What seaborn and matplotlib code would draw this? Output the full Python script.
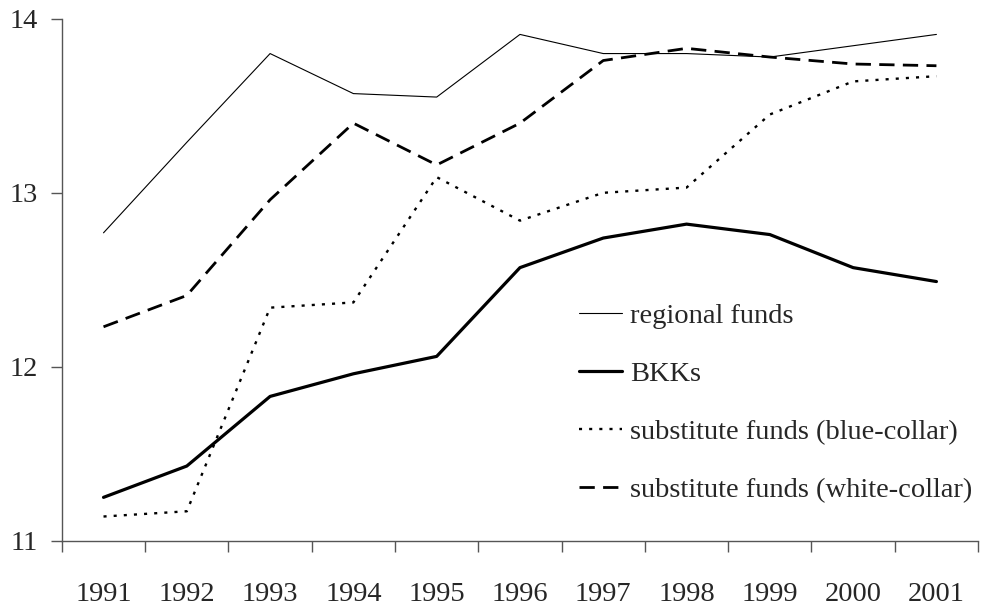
import matplotlib
matplotlib.use("Agg")
import matplotlib.pyplot as plt
import seaborn as sns
import pandas as pd

years = [1991, 1992, 1993, 1994, 1995, 1996, 1997, 1998, 1999, 2000, 2001]
regional = [12.77, 13.29, 13.80, 13.57, 13.55, 13.91, 13.80, 13.80, 13.78, 13.845, 13.91]
bkks = [11.25, 11.43, 11.83, 11.96, 12.06, 12.57, 12.74, 12.82, 12.76, 12.57, 12.49]
blue_collar = [11.14, 11.17, 12.34, 12.37, 13.09, 12.84, 13.00, 13.03, 13.45, 13.64, 13.67]
white_collar = [12.23, 12.41, 12.96, 13.40, 13.16, 13.40, 13.76, 13.83, 13.78, 13.74, 13.73]
labels = ["regional funds", "BKKs", "substitute funds (blue-collar)",
          "substitute funds (white-collar)"]

sns.set_theme(style="white")
plt.rcParams['font.family'] = ['Liberation Serif', 'DejaVu Serif']

FS = 20.5
fig = plt.figure(figsize=(9.82, 6.05), dpi=100)
ax = fig.add_axes([0.063, 0.106, 0.933, 0.863])

series = [regional, bkks, blue_collar, white_collar]
styles = [
    dict(lw=0.8, ls='-'),
    dict(lw=2.3, ls='-'),
    dict(lw=1.7, ls=(0, (1.3, 3.0))),
    dict(lw=2.0, ls=(0, (5.5, 3.0))),
]
for vals, lab, st in zip(series, labels, styles):
    df = pd.DataFrame({"year": years, "value": vals})
    sns.lineplot(data=df, x="year", y="value", ax=ax, color="black",
                 linewidth=st['lw'], linestyle=st['ls'], label=lab)

ax.set_xlim(years[0] - 0.5, years[-1] + 0.5)
ax.set_ylim(11, 14)
ax.set_yticks([11, 12, 13, 14])
ax.set_xticks([y - 0.5 for y in years] + [years[-1] + 0.5])
ax.set_xticklabels([])
ax.set_xticks(years, minor=True)
ax.set_xticklabels([str(y) for y in years], minor=True)
ax.tick_params(axis='x', which='major', direction='out', length=8, width=1,
               color='#555555', bottom=True)
ax.tick_params(axis='x', which='minor', length=0, pad=29.5, labelsize=FS)
ax.tick_params(axis='y', direction='out', length=8, width=1, color='#555555',
               left=True, labelsize=FS, pad=9)
ax.set_xlabel("")
ax.set_ylabel("")
for s in ['top', 'right']:
    ax.spines[s].set_visible(False)
for s in ['left', 'bottom']:
    ax.spines[s].set_color('#555555')
    ax.spines[s].set_linewidth(1)

leg = ax.legend(loc='lower left', bbox_to_anchor=(0.552, 0.05), frameon=False,
                fontsize=FS, handlelength=1.5, handletextpad=0.3,
                labelspacing=1.13, borderaxespad=0)

fig.savefig("out.png", dpi=100)
